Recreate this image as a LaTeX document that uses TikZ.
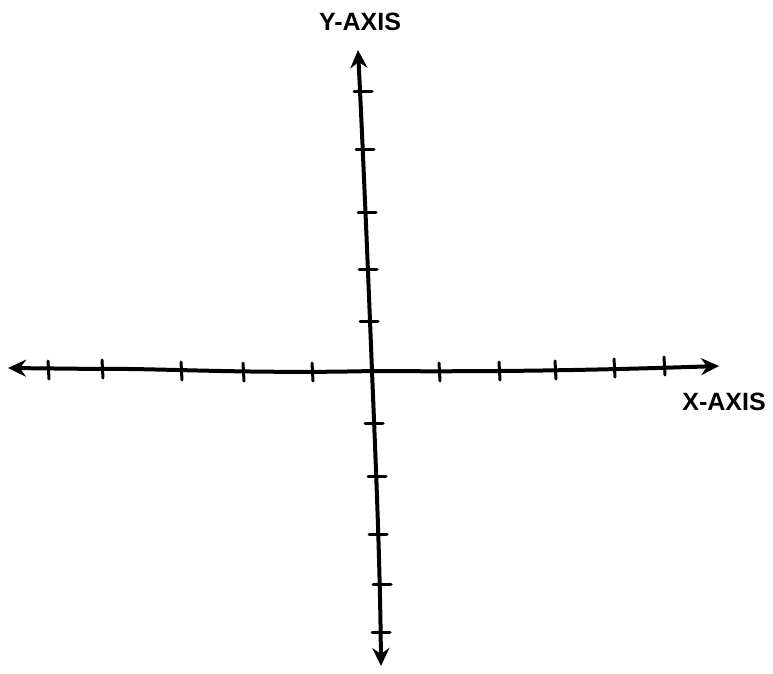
\documentclass[tikz,border=0pt]{standalone}
\usepackage{fontspec}
\setmainfont{Liberation Sans}
\usetikzlibrary{arrows.meta}
\tikzset{
  axisline/.style={line width=4pt, line cap=round, line join=round, -{Stealth[length=18pt,width=17pt,inset=6pt]}},
  tick/.style={line width=3pt, line cap=round},
  axislabel/.style={font=\fontsize{25}{25}\selectfont\bfseries, inner sep=0pt}
}
\begin{document}
\begin{tikzpicture}[x=1pt,y=-1pt]
\useasboundingbox (0,0) rectangle (773,673);
% key points
\coordinate (o) at (372,371);
% labels
\node[axislabel] (ylab) at (360,22) {Y-AXIS};
\node[axislabel] (xlab) at (724,402) {X-AXIS};
% axes
\draw[axisline] (o) .. controls (250,374) and (150,368) .. (102,369) -- (8,368);
\draw[axisline] (o) .. controls (500,372) and (600,370) .. (719,366);
\draw[axisline] (o) .. controls (368,270) and (363,150) .. (358,50);
\draw[axisline] (o) .. controls (376,470) and (380,560) .. (381,666);
% x ticks
\foreach \x/\y in {48/370, 102/369, 181/371, 243/372, 312/372, 439/372, 499/371, 555/370, 614/368, 664/366}
  \draw[tick] (\x,\y-9) -- (\x+1,\y+9);
% y ticks
\foreach \x/\y in {363/91, 365/149, 367/212, 368/269, 369/321, 374/423, 377/476, 378/534, 382/584, 381/632}
  \draw[tick] (\x-9,\y) -- (\x+9,\y);
\end{tikzpicture}
\end{document}
